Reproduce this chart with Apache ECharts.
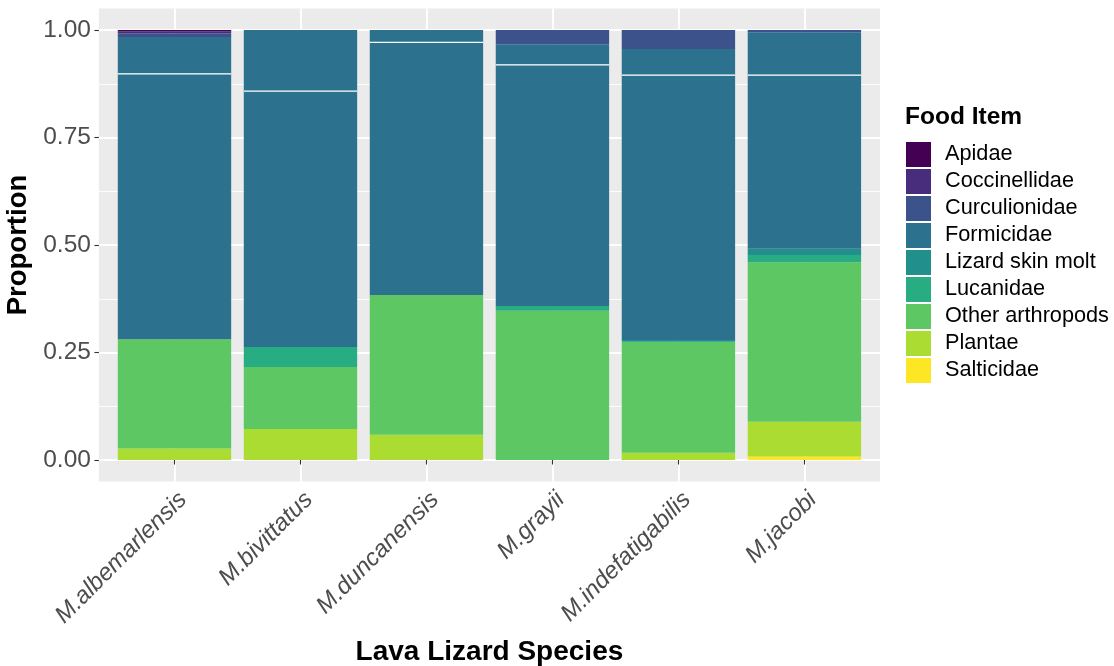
<!DOCTYPE html>
<html><head><meta charset="utf-8">
<script src="https://cdn.jsdelivr.net/npm/echarts@6/dist/echarts.min.js"></script>
<style>html,body{margin:0;padding:0;background:#fff}#c{width:1114px;height:666px}</style>
</head><body><div id="c"></div>
<script>
// ---- data ----
const species = ['M.albemarlensis','M.bivittatus','M.duncanensis','M.grayii','M.indefatigabilis','M.jacobi'];
const foodItems = ['Apidae','Coccinellidae','Curculionidae','Formicidae','Lizard skin molt','Lucanidae','Other arthropods','Plantae','Salticidae'];
const yTicks = [0, 0.25, 0.5, 0.75, 1];
const yMinorTicks = [0.125, 0.375, 0.625, 0.875];
const xPositions = [1, 2, 3, 4, 5, 6];
// proportions per species (order of `species`), stacked bottom -> top
const salticidae      = [0,     0,     0,     0,     0,     0.008];
const plantae         = [0.027, 0.072, 0.059, 0,     0.017, 0.081];
const otherArthropods = [0.254, 0.144, 0.325, 0.347, 0.258, 0.371];
const lucanidae       = [0,     0.047, 0,     0.011, 0,     0.017];
const lizardSkinMolt  = [0,     0,     0,     0,     0.004, 0.014];
const formicidaeA     = [0.617, 0.595, 0.587, 0.561, 0.616, 0.404];
const formicidaeB     = [0.086, 0.142, 0.029, 0.048, 0.061, 0.100];
const curculionidae   = [0.008, 0,     0,     0.033, 0.044, 0.005];
const coccinellidae   = [0.005, 0,     0,     0,     0,     0];
const apidae          = [0.003, 0,     0,     0,     0,     0];

const colors = {
  'Apidae':'#440154','Coccinellidae':'#472D7B','Curculionidae':'#3B528B','Formicidae':'#2C728E',
  'Lizard skin molt':'#21908C','Lucanidae':'#27AD81','Other arthropods':'#5DC863','Plantae':'#AADC32','Salticidae':'#FDE725'
};
const stackOrder = [
  ['Salticidae', salticidae], ['Plantae', plantae], ['Other arthropods', otherArthropods],
  ['Lucanidae', lucanidae], ['Lizard skin molt', lizardSkinMolt], ['Formicidae', formicidaeA],
  ['Formicidae', formicidaeB], ['Curculionidae', curculionidae], ['Coccinellidae', coccinellidae], ['Apidae', apidae]
];

// ---- layout (ggplot-like panel) ----
const panelL = 98.9, panelR = 880, panelT = 8.5, panelB = 481.5;
const unit = (panelR - panelL) / 6.2;
const FONT = 'Liberation Sans, Arial, Helvetica, sans-serif';

const series = stackOrder.map(([name, arr]) => ({
  name, type: 'bar', stack: 'total', xAxisIndex: 0, yAxisIndex: 0,
  barWidth: unit * 0.9, itemStyle: { color: colors[name] },
  emphasis: { disabled: true }, data: arr
}));
// separator between the two Formicidae rows
const sepData = species.map((s, i) => [i, salticidae[i] + plantae[i] + otherArthropods[i] + lucanidae[i] + lizardSkinMolt[i] + formicidaeA[i]]);
series.push({
  type: 'custom', name: 'sep', xAxisIndex: 0, yAxisIndex: 0, silent: true, z: 10,
  renderItem: (params, api) => {
    const p = api.coord([api.value(0), api.value(1)]);
    const w = api.size([1, 0])[0] * 0.9;
    return { type: 'line', shape: { x1: p[0] - w / 2, y1: p[1], x2: p[0] + w / 2, y2: p[1] },
             style: { stroke: '#ffffff', lineWidth: 1.3 } };
  },
  data: sepData
});

const chart = echarts.init(document.getElementById('c'), null, { renderer: 'canvas' });
chart.setOption({
  animation: false,
  backgroundColor: '#ffffff',
  textStyle: { fontFamily: FONT },
  title: { text: 'Food Item', left: 905, top: 105, padding: 0,
           textStyle: { fontFamily: FONT, fontSize: 24.5, fontWeight: 'bold', color: '#000' } },
  legend: {
    orient: 'vertical', left: 906, top: 142, padding: 0, itemGap: 2,
    itemWidth: 25, itemHeight: 25, icon: 'rect',
    data: foodItems.map(n => ({ name: n, itemStyle: { color: colors[n] } })),
    textStyle: { fontFamily: FONT, fontSize: 21.7, color: '#000', padding: [0, 0, 0, 9] },
    selectedMode: false
  },
  grid: [
    { left: panelL + unit * 0.1, width: unit * 6, top: 30, height: 430, containLabel: false, outerBoundsMode: 'none' },
    { left: panelL, width: panelR - panelL, top: panelT, height: panelB - panelT, outerBoundsMode: 'none',
      containLabel: false, show: true, backgroundColor: '#EBEBEB', borderWidth: 0, z: 0 }
  ],
  xAxis: [
    { type: 'category', gridIndex: 0, data: species, show: false },
    { type: 'value', gridIndex: 1, min: 0.4, max: 6.6,
      axisLine: { show: false },
      axisTick: { show: true, customValues: xPositions, length: 4.5, lineStyle: { color: '#333333', width: 1.1 } },
      axisLabel: { customValues: xPositions, formatter: v => species[Math.round(v) - 1] || '',
                   rotate: 45, margin: 6, verticalAlign: 'top',
                   fontFamily: FONT, fontStyle: 'italic', fontSize: 24, color: '#4D4D4D' },
      splitLine: { show: true, lineStyle: { color: '#ffffff', width: 1.9 } },
      name: 'Lava Lizard Species', nameLocation: 'middle', nameGap: 157,
      nameTextStyle: { fontFamily: FONT, fontSize: 28, fontWeight: 'bold', color: '#000' } }
  ],
  yAxis: [
    { type: 'value', gridIndex: 0, min: 0, max: 1, show: false },
    { type: 'value', gridIndex: 1, min: -0.05, max: 1.05,
      axisLine: { show: false },
      axisTick: { show: true, customValues: yTicks, length: 4.5, lineStyle: { color: '#333333', width: 1.1 } },
      axisLabel: { customValues: yTicks, formatter: v => v.toFixed(2), margin: 8,
                   fontFamily: FONT, fontSize: 24.5, color: '#4D4D4D' },
      splitLine: { show: true, lineStyle: { color: '#ffffff', width: 1.9 } },
      name: 'Proportion', nameLocation: 'middle', nameGap: 63,
      nameTextStyle: { fontFamily: FONT, fontSize: 27.5, fontWeight: 'bold', color: '#000' } },
    { type: 'value', gridIndex: 1, min: -0.05, max: 1.05, position: 'left',
      axisLine: { show: false },
      axisTick: { show: false, customValues: yMinorTicks },
      axisLabel: { show: false, customValues: yMinorTicks },
      splitLine: { show: true, lineStyle: { color: '#ffffff', width: 0.9 } } }
  ],
  series
});
</script></body></html>
